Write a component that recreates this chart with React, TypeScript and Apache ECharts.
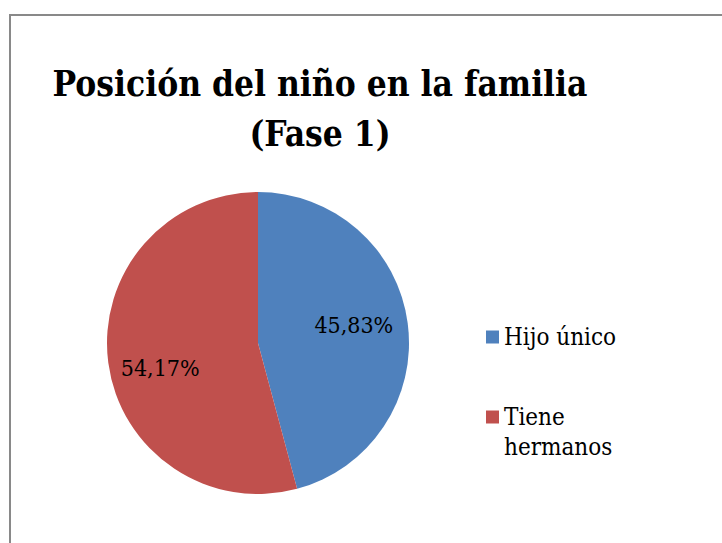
import React, { useEffect, useRef } from "react";
import * as echarts from "echarts";

const categories = ["Hijo único", "Tiene hermanos"];
const values = [45.83, 54.17];
const colors = ["#4F81BD", "#C0504D"];
const titleText = "Posición del niño en la familia\n(Fase 1)";
const FONT = "DejaVu Serif Condensed";

export default function App() {
  const ref = useRef<HTMLDivElement>(null);
  useEffect(() => {
    if (!ref.current) return;
    const chart = echarts.init(ref.current, undefined, { renderer: "svg" });
    const labelOffsets: [number, number][] = [
      [18, -8],
      [-20, 15],
    ];
    chart.setOption({
      animation: false,
      backgroundColor: "#ffffff",
      title: {
        text: titleText,
        left: 320,
        top: 58,
        textAlign: "center",
        padding: 0,
        textStyle: {
          fontFamily: FONT,
          fontWeight: "bold",
          fontSize: 35,
          lineHeight: 50,
          color: "#000000",
        },
      },
      graphic: [
        {
          type: "rect",
          shape: { x: 10, y: 15, width: 760, height: 600 },
          style: { fill: "none", stroke: "#898989", lineWidth: 2 },
          silent: true,
          z: 100,
        },
      ],
      legend: [
        {
          data: [categories[0]],
          orient: "vertical",
          left: 486,
          top: 322,
          padding: 0,
          itemWidth: 13,
          itemHeight: 13,
          itemGap: 5,
          icon: "rect",
          textStyle: { fontFamily: FONT, fontSize: 24, lineHeight: 30, color: "#000000" },
        },
        {
          data: [categories[1]],
          orient: "vertical",
          left: 486,
          top: 372,
          padding: 0,
          itemWidth: 13,
          itemHeight: 13,
          icon: "rect",
          formatter: (name: string) => "\n" + name.replace(" ", "\n"),
          textStyle: {
            fontFamily: FONT,
            fontSize: 24,
            lineHeight: 30,
            color: "#000000",
          },
        },
      ],
      series: [
        {
          type: "pie",
          center: [258, 343],
          radius: 151,
          startAngle: 90,
          clockwise: true,
          avoidLabelOverlap: false,
          label: {
            show: true,
            position: "inside",
            fontFamily: FONT,
            fontSize: 23,
            color: "#000000",
            formatter: (p: any) => p.value.toFixed(2).replace(".", ",") + "%",
          },
          labelLine: { show: false },
          emphasis: { disabled: true },
          itemStyle: { borderWidth: 0 },
          data: categories.map((name, i) => ({
            name,
            value: values[i],
            itemStyle: { color: colors[i] },
            label: { offset: labelOffsets[i] },
          })),
        },
      ],
    });
    return () => chart.dispose();
  }, []);
  return (
    <div
      ref={ref}
      style={{ position: "absolute", left: 0, top: 0, width: 722, height: 543 }}
    />
  );
}
